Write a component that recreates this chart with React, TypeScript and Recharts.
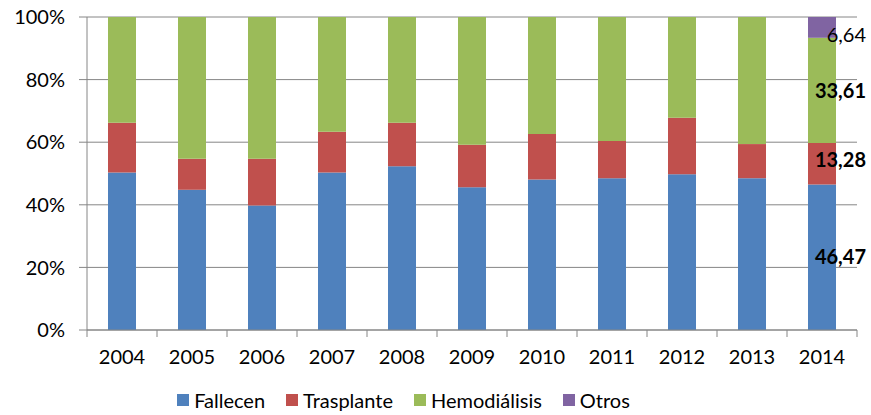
import { BarChart, Bar, XAxis, YAxis, CartesianGrid, Legend, LabelList } from "recharts";

const years = ["2004", "2005", "2006", "2007", "2008", "2009", "2010", "2011", "2012", "2013", "2014"];
const fallecen = [50.3, 44.8, 39.8, 50.3, 52.3, 45.6, 48.1, 48.5, 49.8, 48.5, 46.47];
const trasplante = [15.9, 9.9, 14.9, 13.0, 13.9, 13.6, 14.5, 11.9, 18.0, 10.9, 13.28];
const hemodialisis = [33.8, 45.3, 45.3, 36.7, 33.8, 40.8, 37.4, 39.6, 32.2, 40.6, 33.61];
const otros = [0, 0, 0, 0, 0, 0, 0, 0, 0, 0, 6.64];
const yTicks = [0, 0.2, 0.4, 0.6, 0.8, 1];
const labelledYear = "2014";

const series = [
  { key: "fallecen", name: "Fallecen", color: "#4F81BD", values: fallecen, bold: true, dy: 0 },
  { key: "trasplante", name: "Trasplante", color: "#C0504D", values: trasplante, bold: true, dy: -4 },
  { key: "hemodialisis", name: "Hemodiálisis", color: "#9BBB59", values: hemodialisis, bold: true, dy: 1 },
  { key: "otros", name: "Otros", color: "#8064A2", values: otros, bold: false, dy: 8 },
];

const W = 871;
const H = 415;
const LEFT = 87;
const RIGHT = 14;
const FONT = "Lato, sans-serif";
const BAND = (W - LEFT - RIGHT) / years.length;

const data = years.map((year, i) => ({
  year,
  fallecen: fallecen[i],
  trasplante: trasplante[i],
  hemodialisis: hemodialisis[i],
  otros: otros[i],
}));

const fmt = (v: number) => v.toFixed(2).replace(".", ",");

function XTick(props: any) {
  const { x, y, payload, index } = props;
  const last = index === years.length - 1;
  return (
    <g>
      <line x1={x - BAND / 2} x2={x - BAND / 2} y1={y} y2={y + 7} stroke="#868686" />
      {last && <line x1={x + BAND / 2} x2={x + BAND / 2} y1={y} y2={y + 7} stroke="#868686" />}
      <text x={x} y={y + 27} dy="0.355em" textAnchor="middle" fontSize={20} fill="#000" fontFamily={FONT}>
        {payload.value}
      </text>
    </g>
  );
}

function makeLabel(s: (typeof series)[number]) {
  return (props: any) => {
    const { x, y, width, height, value } = props;
    if (value !== labelledYear) return null;
    const i = years.indexOf(value);
    return (
      <text
        x={x + width + 30}
        y={y + height / 2 + s.dy}
        dy="0.355em"
        textAnchor="end"
        fontSize={20}
        fontWeight={s.bold ? 700 : 400}
        fill="#000"
        fontFamily={FONT}
      >
        {fmt(s.values[i])}
      </text>
    );
  };
}

function LegendContent() {
  return (
    <div style={{ display: "flex", justifyContent: "center", alignItems: "center", gap: 21, fontFamily: FONT, fontSize: 20, color: "#000", paddingRight: 50, paddingTop: 8 }}>
      {series.map((s) => (
        <div key={s.key} style={{ display: "flex", alignItems: "center" }}>
          <span style={{ display: "inline-block", width: 12, height: 12, background: s.color, marginRight: 5 }} />
          <span>{s.name}</span>
        </div>
      ))}
    </div>
  );
}

export default function App() {
  return (
    <div style={{ position: "absolute", left: 0, top: 0, background: "#fff" }}>
      <BarChart
        width={W}
        height={H}
        data={data}
        stackOffset="expand"
        barCategoryGap="30%"
        margin={{ top: 17, right: RIGHT, left: 0, bottom: 0 }}
      >
        <CartesianGrid vertical={false} stroke="#868686" />
        <XAxis
          dataKey="year"
          tick={<XTick />}
          tickLine={false}
          tickSize={0}
          tickMargin={0}
          height={50}
          stroke="#868686"
          interval={0}
        />
        <YAxis
          domain={[0, 1]}
          ticks={yTicks}
          width={LEFT}
          tickSize={8}
          tickMargin={14}
          stroke="#868686"
          tick={{ fontSize: 20, fill: "#000", fontFamily: FONT }}
          tickFormatter={(v: number) => `${Math.round(v * 100)}%`}
        />
        <Legend verticalAlign="bottom" height={35} content={<LegendContent />} />
        {series.map((s) => (
          <Bar key={s.key} dataKey={s.key} name={s.name} stackId="a" fill={s.color} isAnimationActive={false}>
            <LabelList dataKey="year" content={makeLabel(s)} />
          </Bar>
        ))}
      </BarChart>
    </div>
  );
}
